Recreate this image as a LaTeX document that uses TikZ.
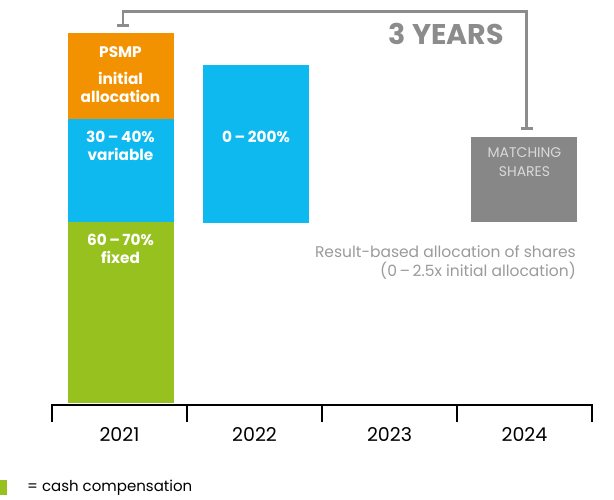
\documentclass[tikz,border=0pt]{standalone}
\usepackage{fontspec}
\setmainfont{Poppins}
\usetikzlibrary{arrows.meta}

\definecolor{psmporange}{HTML}{F39200}
\definecolor{varblue}{HTML}{0DB9EE}
\definecolor{cashgreen}{HTML}{97C11F}
\definecolor{sharegray}{HTML}{878787}
\definecolor{spangray}{HTML}{8C8C8C}
\definecolor{notegray}{HTML}{9A9A9A}

\begin{document}
\begin{tikzpicture}
            \tikzset{x=1pt, y=-1pt}
            \tikzstyle{bar}=[rectangle, inner sep=0pt, minimum width=106pt]
            \tikzstyle{lbl}=[text=white, inner sep=0pt, align=center, font=\bfseries\fontsize{15.3}{18}\selectfont]
            \tikzstyle{year}=[inner sep=0pt, font=\fontsize{19}{20}\selectfont]
            \tikzstyle{span}=[draw=spangray, line width=2.6pt, {Bar[width=12pt]}-{Bar[width=12pt]}]

            \useasboundingbox (0,0) rectangle (614,499);

            % stacked bar for 2021
            \draw (120.5, 76.0)     node[bar, fill=psmporange, minimum height=86pt]    (psmp)  {};
            \draw (120.5, 170.5)    node[bar, fill=varblue, minimum height=103pt]      (var0)  {};
            \draw (120.5, 312.5)    node[bar, fill=cashgreen, minimum height=181pt]    (fixed) {};
            % 2022 and matching shares
            \draw (256.0, 143.8)    node[bar, fill=varblue, minimum height=157.5pt]    (var1)  {};
            \draw (524.0, 179.5)    node[bar, fill=sharegray, minimum height=85pt]     (match) {};

            \draw (120.5, 52.0)     node[lbl]   (l0)    {PSMP};
            \draw (120.5, 87.0)     node[lbl]   (l1)    {initial\\allocation};
            \draw (120.5, 145.5)    node[lbl]   (l2)    {30\,–\,40\%\\variable};
            \draw (120.5, 248.5)    node[lbl]   (l3)    {60\,–\,70\%\\fixed};
            \draw (256.0, 137.0)    node[lbl]   (l4)    {0\,–\,200\%};
            \draw (524.5, 162.5)    node[text=white!85!black, inner sep=0pt, align=center,
                                         font=\fontsize{14}{19}\selectfont] (l5) {MATCHING\\SHARES};

            % three year span
            \draw[span] ([xshift=2.5pt, yshift=6pt]psmp.north) -- ++(0,-15.5)
                        -| ([xshift=2.5pt, yshift=7pt]match.north);
            \draw (504.0, 34.0)     node[anchor=east, inner sep=0pt, text=spangray,
                                         font=\bfseries\fontsize{28.5}{30}\selectfont] (span) {3 YEARS};

            \draw (576.0, 262.5)    node[anchor=east, inner sep=0pt, align=right, text=notegray,
                                         font=\fontsize{15.5}{19}\selectfont] (note)
                                    {Result-based allocation of shares\\(0\,–\,2.5x initial allocation)};

            % time axis
            \draw[line width=2pt] (51.5, 404.5) -- (592.5, 404.5);
            \foreach \x in {52, 187, 322, 457, 592}
                \draw[line width=1.3pt] (\x, 404) -- (\x, 422);
            \foreach \yr [count=\i from 0] in {2021, 2022, 2023, 2024}
                \draw (119.5+135*\i, 435) node[year] (y\yr) {\yr};

            % legend
            \draw (3.5, 487.5)      node[bar, fill=cashgreen, minimum width=7pt, minimum height=15pt] (key) {};
            \draw (27.0, 488.0)     node[anchor=west, inner sep=0pt, font=\fontsize{15}{18}\selectfont] (keytxt) {= cash compensation};
        \end{tikzpicture}
\end{document}
